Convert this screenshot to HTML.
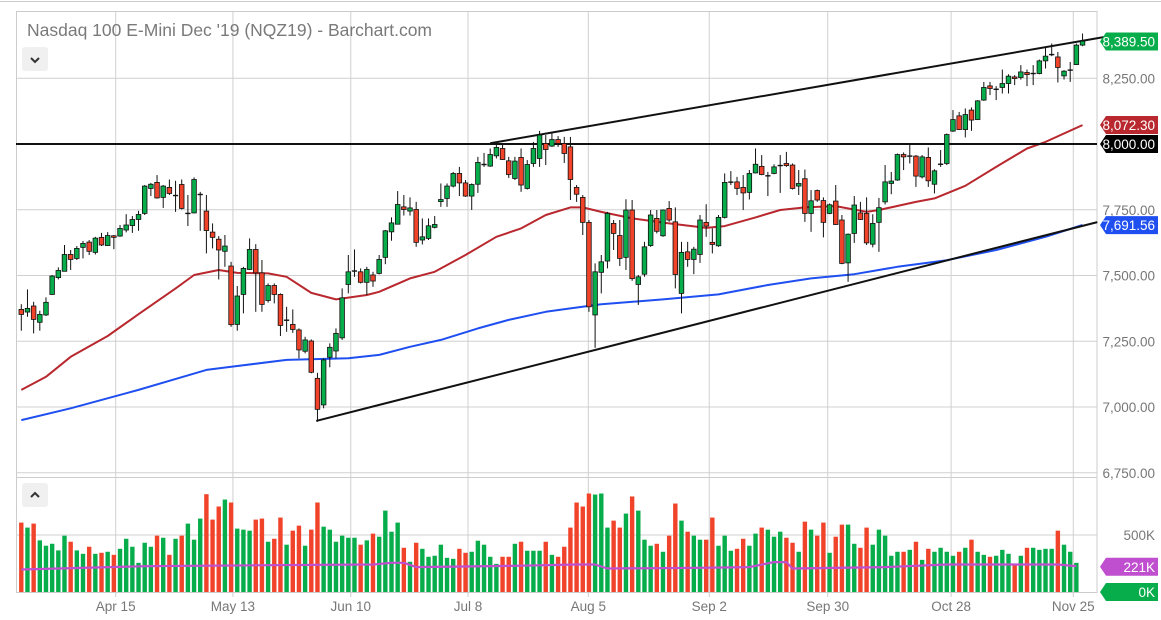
<!DOCTYPE html>
<html><head><meta charset="utf-8">
<style>
html,body{margin:0;padding:0;background:#fff;}
body{width:1161px;height:615px;overflow:hidden;font-family:"Liberation Sans",sans-serif;}
svg text{font-family:"Liberation Sans",sans-serif;}
</style></head>
<body>
<svg id="chart" width="1161" height="615" viewBox="0 0 1161 615" xmlns="http://www.w3.org/2000/svg">
  <line x1="0" y1="1.5" x2="1161" y2="1.5" stroke="#ccc"/>
  <rect x="16.5" y="11.5" width="1080.5" height="581" fill="none" stroke="#ccc"/>
  <line x1="16" y1="477.5" x2="1097" y2="477.5" stroke="#ccc"/>
  <g id="grid"></g>
  <g id="vol"></g>
  <g id="lines"></g>
  <g id="candles"></g>
  <g id="axis"></g>
  <text x="27" y="36" font-size="17.5" fill="#7a7a7a">Nasdaq 100 E-Mini Dec '19 (NQZ19) - Barchart.com</text>
  <g>
    <rect x="22" y="47" width="26" height="24" rx="3" fill="#f0f0f0"/>
    <path d="M31 58 L35 62 L39 58" fill="none" stroke="#333" stroke-width="2"/>
  </g>
  <g>
    <rect x="22" y="483" width="26" height="24" rx="3" fill="#f0f0f0"/>
    <path d="M31 497 L35 493 L39 497" fill="none" stroke="#333" stroke-width="2"/>
  </g>
</svg>
<script>
const O=[7371,7361,7384,7322,7350,7428,7492,7516,7580,7565,7607,7627,7588,7645,7614,7651,7650,7673,7690,7713,7736,7831,7854,7797,7835,7804,7846,7736,7738,7808,7745,7665,7638,7592,7536,7314,7428,7523,7599,7510,7405,7462,7428,7330,7314,7293,7212,7251,7109,7008,7189,7213,7263,7466,7517,7514,7474,7502,7508,7569,7666,7695,7761,7745,7751,7635,7641,7683,7781,7793,7840,7888,7852,7802,7847,7922,7916,7955,7983,7936,7869,7949,7831,7926,7945,8002,7992,8017,8002,7989,7835,7797,7702,7350,7512,7555,7698,7652,7569,7749,7466,7505,7614,7717,7651,7755,7704,7432,7590,7561,7580,7702,7626,7613,7721,7855,7856,7835,7816,7890,7915,7879,7888,7918,7926,7920,7840,7868,7736,7823,7785,7736,7783,7711,7548,7660,7738,7736,7619,7702,7780,7850,7863,7960,7954,7954,7875,7949,7847,7923,7926,8049,8107,8055,8129,8093,8167,8221,8208,8215,8230,8255,8253,8272,8268,8268,8316,8340,8331,8259,8281,8302,8376];
const H=[7391,7447,7400,7366,7417,7502,7531,7616,7597,7612,7631,7635,7647,7662,7665,7654,7692,7733,7726,7746,7844,7852,7882,7844,7865,7860,7865,7806,7873,7818,7806,7698,7650,7654,7552,7460,7533,7641,7619,7559,7470,7470,7432,7381,7371,7299,7267,7257,7130,7185,7242,7299,7451,7578,7599,7527,7533,7514,7578,7673,7721,7821,7806,7797,7780,7717,7717,7726,7850,7850,7894,7913,7863,7850,7951,7966,7983,7996,7998,7951,7951,7983,7939,8008,8050,8034,8040,8030,8027,8027,7844,7806,7711,7546,7578,7742,7711,7711,7790,7787,7502,7628,7749,7749,7751,7783,7759,7628,7628,7609,7730,7771,7679,7730,7888,7897,7875,7882,7901,7983,7958,7894,7923,7958,7970,7926,7901,7903,7825,7827,7797,7774,7844,7730,7660,7802,7780,7797,7733,7795,7920,7894,7964,7968,7996,7958,7958,7987,7904,7977,8040,8129,8122,8135,8139,8167,8236,8236,8220,8283,8265,8262,8300,8283,8300,8321,8369,8382,8350,8281,8312,8382,8420];
const L=[7290,7343,7280,7290,7346,7426,7485,7516,7521,7559,7565,7578,7580,7612,7612,7600,7647,7664,7662,7670,7730,7802,7792,7757,7806,7742,7751,7688,7736,7670,7584,7603,7485,7533,7305,7290,7356,7521,7362,7362,7397,7394,7270,7286,7282,7185,7204,7128,6944,6995,7151,7185,7255,7432,7495,7470,7426,7457,7504,7543,7632,7694,7728,7728,7609,7618,7635,7679,7761,7761,7835,7802,7799,7749,7814,7913,7913,7945,7939,7871,7863,7818,7827,7913,7913,7920,7989,7989,7928,7787,7780,7654,7362,7225,7432,7527,7597,7536,7521,7480,7388,7495,7609,7660,7647,7704,7451,7356,7533,7505,7548,7647,7584,7609,7717,7844,7806,7749,7789,7888,7881,7802,7885,7814,7913,7827,7806,7704,7666,7780,7645,7733,7692,7543,7476,7624,7711,7616,7607,7590,7770,7809,7860,7901,7926,7837,7869,7837,7812,7913,7920,8046,8053,8025,8050,8091,8164,8186,8167,8192,8192,8224,8245,8220,8224,8265,8287,8334,8234,8245,8236,8300,8372];
const C=[7352,7375,7333,7352,7398,7498,7519,7580,7561,7603,7622,7592,7642,7616,7652,7645,7679,7692,7713,7732,7840,7847,7795,7840,7812,7804,7755,7736,7865,7808,7671,7645,7597,7612,7313,7422,7527,7599,7510,7390,7462,7428,7310,7330,7295,7217,7255,7132,6991,7179,7227,7280,7415,7514,7517,7474,7523,7479,7561,7670,7700,7770,7751,7757,7626,7647,7689,7694,7789,7840,7888,7852,7802,7846,7930,7922,7960,7987,7941,7884,7935,7844,7922,7983,8034,7979,8017,8002,7964,7865,7809,7702,7381,7514,7552,7736,7660,7565,7749,7488,7495,7609,7730,7668,7749,7711,7504,7588,7561,7600,7711,7688,7618,7721,7854,7855,7831,7814,7888,7923,7884,7879,7913,7918,7918,7831,7850,7736,7784,7787,7702,7769,7694,7546,7657,7768,7713,7624,7698,7758,7856,7859,7960,7951,7954,7878,7951,7860,7898,7923,8036,8093,8055,8112,8091,8164,8215,8211,8208,8230,8258,8249,8274,8264,8268,8316,8334,8340,8291,8277,8281,8376,8391];
const VOL=[609,565,600,453,406,423,365,494,441,365,335,397,335,344,353,326,379,467,397,256,432,397,494,476,326,467,494,600,459,644,858,635,750,811,785,556,547,538,635,644,441,467,653,415,538,582,406,547,785,573,547,441,494,476,476,415,453,512,485,714,529,609,388,265,432,379,309,318,415,300,291,379,344,353,450,415,309,247,309,309,423,441,362,362,362,441,326,309,397,565,785,750,864,855,864,565,626,565,688,838,714,459,406,423,353,494,776,626,529,494,459,459,653,406,494,362,379,467,406,512,565,547,485,529,476,432,353,617,547,494,609,344,485,591,591,423,388,565,415,547,494,318,353,353,370,441,282,379,353,388,353,318,353,388,459,353,326,309,318,370,335,235,318,388,388,370,379,379,538,415,353,256,0];
const MA50_IDX=[0,4,8,14,19,25,28,32,35,40,43,47,51,56,58,63,67,72,77,81,85,89,91,94,99,105,111,114,119,123,127,132,137,139,145,148,153,158,163,166,172];
const MA50_VAL=[7065,7115,7191,7270,7353,7451,7502,7521,7510,7508,7495,7434,7409,7426,7438,7489,7514,7578,7647,7679,7730,7759,7759,7742,7717,7698,7681,7688,7721,7749,7759,7764,7742,7749,7780,7793,7841,7913,7983,8008,8072];
const MA200_IDX=[0,8,19,30,35,43,53,58,63,68,74,79,85,89,94,104,113,121,128,135,142,150,158,166,172];
const MA200_VAL=[6950,6995,7065,7141,7156,7179,7185,7198,7229,7255,7299,7331,7362,7375,7391,7409,7428,7464,7489,7505,7533,7558,7597,7647,7692];
const AVGV_IDX=[0,20,40,57,60,62,64,80,90,93,95,110,118,122,124,125,140,150,168,171];
const AVGV_VAL=[197,226,235,241,256,256,218,230,241,241,206,212,218,262,262,206,218,241,241,226];
const PRICE_TICKS=[6750,7000,7250,7500,7750,8000,8250];
const DATE_LABELS=["Apr 15","May 13","Jun 10","Jul 8","Aug 5","Sep 2","Sep 30","Oct 28","Nov 25"];
const DATE_IDX=[15.3,34.3,53.4,72.4,91.9,111.5,130.7,150.7,170.5];
const UPPER_TREND=[[76,8003],[177.3,8414]];
const LOWER_TREND=[[47.8,6947],[174.4,7703]];
const LAST_PRICE=8389.50, MA50_LAST=8072.30, LEVEL=8000.00, MA200_LAST=7691.56, AVGV_LAST=221;

const NS="http://www.w3.org/2000/svg";
const X0=21.3, PITCH=6.17;
const cx=i=>X0+i*PITCH;
const py=p=>407-(p-7000)*0.263;
const vy=v=>592-v*57/500;
const GREEN="#08ad4b", RED="#f0432a";
function mk(tag,attrs,parent){const e=document.createElementNS(NS,tag);for(const k in attrs)e.setAttribute(k,attrs[k]);parent.appendChild(e);return e;}
const grid=document.getElementById('grid'),vol=document.getElementById('vol'),lines=document.getElementById('lines'),cg=document.getElementById('candles'),axis=document.getElementById('axis');
const fmt=v=>v.toLocaleString('en-US',{minimumFractionDigits:2,maximumFractionDigits:2});

PRICE_TICKS.forEach(p=>{
  const g=mk('line',{x1:16,x2:1097,y1:py(p),y2:py(p),stroke:'#d0d0d0'},grid);
  
  
  const t=mk('text',{x:1155,y:py(p)+5,'text-anchor':'end','font-size':13.5,fill:'#777'},axis);
  t.textContent=fmt(p);
  
  
});
const g5=mk('line',{x1:16,x2:1097,y1:vy(500),y2:vy(500),stroke:'#d0d0d0'},grid);


const t5=mk('text',{x:1155,y:vy(500)+5,'text-anchor':'end','font-size':13.5,fill:'#777'},axis);
t5.textContent='500K';


DATE_LABELS.forEach((d,k)=>{
  const x=cx(DATE_IDX[k]);
  const l=mk('line',{x1:x,x2:x,y1:12,y2:592,stroke:'#d0d0d0'},grid);
  
  
  const tk=mk('line',{x1:x,x2:x,y1:592,y2:597,stroke:'#ccc'},grid);
  
  
  const t=mk('text',{x:x,y:611,'text-anchor':'middle','font-size':13.5,fill:'#777'},axis);
  t.textContent=d;
  
  
});

VOL.forEach((v,i)=>{
  if(v<=0)return;
  const r=mk('rect',{x:cx(i)-2.2,y:vy(v),width:4.4,height:592-vy(v),fill:C[i]>=O[i]?GREEN:RED},vol);
  
  
});

function poly(idx,val,yf,color,w,name){
  const pts=idx.map((i,k)=>cx(i).toFixed(1)+','+yf(val[k]).toFixed(1)).join(' ');
  const p=mk('polyline',{points:pts,fill:'none',stroke:color,'stroke-width':w,'stroke-linejoin':'round'},lines);
  
  
}
poly(MA200_IDX,MA200_VAL,py,'#1f4ff0',2,'ma-200-line');
poly(MA50_IDX,MA50_VAL,py,'#b8282e',2,'ma-50-line');
poly(AVGV_IDX,AVGV_VAL,vy,'#c04fd0',2.2,'volume-average-line');

const hl=mk('line',{x1:16,x2:1097,y1:py(LEVEL),y2:py(LEVEL),stroke:'#111','stroke-width':2},lines);


[[UPPER_TREND,'upper-trendline'],[LOWER_TREND,'lower-trendline']].forEach(([t,n])=>{
  const l=mk('line',{x1:cx(t[0][0]),y1:py(t[0][1]),x2:cx(t[1][0]),y2:py(t[1][1]),stroke:'#111','stroke-width':2},lines);
  
  
});

O.forEach((o,i)=>{
  const c=C[i],x=cx(i);
  const hi=Math.max(H[i],o,c),lo=Math.min(L[i],o,c);
  const g=mk('g',{},cg);
  
  
  mk('line',{x1:x,x2:x,y1:py(hi),y2:py(lo),stroke:'#111','stroke-width':1},g);
  const top=py(Math.max(o,c)),bot=py(Math.min(o,c));
  if(bot-top<1.2){mk('line',{x1:x-2.6,x2:x+2.6,y1:top,y2:top,stroke:'#111','stroke-width':1.4},g);}
  else mk('rect',{x:x-2.3,y:top,width:4.6,height:bot-top,fill:c>=o?GREEN:RED,stroke:'#111','stroke-width':0.8},g);
});

function tag(y,text,bg,name){
  const g=mk('g',{},axis);
  
  
  mk('polygon',{points:`1100,${y} 1106,${y-9} 1158,${y-9} 1158,${y+9} 1106,${y+9}`,fill:bg},g);
  const t=mk('text',{x:1155,y:y+5,'text-anchor':'end','font-size':13.5,fill:'#fff'},g);
  t.textContent=text;
}
tag(py(LAST_PRICE),fmt(LAST_PRICE),GREEN,'last-price-tag');
tag(py(MA50_LAST),fmt(MA50_LAST),'#b8282e','ma-50-tag');
tag(py(LEVEL),fmt(LEVEL),'#000','level-8000-tag');
tag(py(MA200_LAST),fmt(MA200_LAST),'#1f4ff0','ma-200-tag');
tag(vy(AVGV_LAST),AVGV_LAST+'K','#c04fd0','volume-average-tag');
tag(vy(0),'0K',GREEN,'volume-zero-tag');
</script>
</body></html>
